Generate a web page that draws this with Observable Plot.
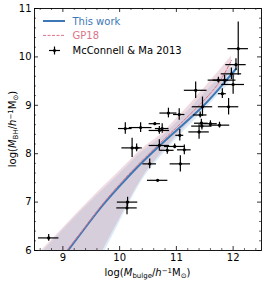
<!DOCTYPE html>
<html><head><meta charset="utf-8">
<script src="https://cdn.jsdelivr.net/npm/d3@7"></script>
<script src="https://cdn.jsdelivr.net/npm/@observablehq/plot@0.6"></script>
<style>body{margin:0;background:#fff}svg{display:block}</style>
</head><body><div id="chart"></div>
<script>
// McConnell & Ma 2013 data (log M_bulge, log M_BH, errors)
const obsX = [8.75,10.14,10.13,10.67,10.53,11.07,10.70,10.84,10.97,11.14,10.22,10.30,10.10,10.37,10.62,10.70,10.75,10.86,11.05,11.06,11.34,11.40,11.42,11.44,11.46,11.45,11.60,11.76,11.92,11.81,11.74,11.85,11.97,12.00,12.05,12.09];
const obsY = [6.26,7.00,6.88,7.45,7.79,7.79,8.17,8.07,8.15,8.08,8.12,8.12,8.52,8.54,8.62,8.48,8.52,8.84,8.81,8.38,9.31,8.45,8.80,8.63,8.97,8.57,8.62,8.59,8.97,9.24,9.52,9.52,9.65,9.43,9.84,10.17];
const obsXerr = [0.18,0.18,0.18,0.18,0.12,0.18,0.18,0.12,0.18,0.12,0.18,0.06,0.12,0.20,0.10,0.18,0.12,0.15,0.10,0.07,0.20,0.18,0.12,0.12,0.18,0.18,0.12,0.18,0.18,0.07,0.18,0.20,0.18,0.20,0.18,0.18];
const obsYerr = [0.07,0.10,0.14,0.00,0.10,0.17,0.12,0.08,0.05,0.10,0.20,0.08,0.12,0.10,0.02,0.08,0.10,0.10,0.12,0.12,0.17,0.15,0.06,0.08,0.20,0.08,0.06,0.06,0.17,0.10,0.06,0.10,0.12,0.20,0.12,0.55];

// This work
const workX = [9.09,9.4,9.7,10.0,10.43,11.0,11.45,11.75,12.05];
const workY = [6.0,6.48,6.93,7.33,7.86,8.48,8.96,9.34,9.75];
const workBandX = [8.6,9.0,9.5,10.0,10.4,10.7,11.0,11.3,11.6,12.05];
const workLo = [3.45,4.35,5.45,6.58,7.45,7.9,8.3,8.66,9.03,9.6];
const workHi = [5.92,6.42,7.02,7.58,8.04,8.3,8.64,9.0,9.38,9.86];

// GP18
const gpX = [9.07,9.4,9.7,10.0,10.43,11.0,11.45,11.75,11.97];
const gpY = [6.0,6.5,6.96,7.37,7.9,8.54,9.06,9.47,9.93];
const gpBandX = [8.6,9.0,9.5,10.0,10.4,10.7,11.0,11.3,11.6,11.97];
const gpLo = [3.55,4.45,5.55,6.65,7.5,7.95,8.36,8.73,9.12,9.7];
const gpHi = [5.97,6.46,7.07,7.64,8.1,8.37,8.72,9.1,9.5,10.02];

const xMajor = [9,10,11,12];
const yMajor = [6,7,8,9,10,11];
const xMinor = d3.range(8.6, 12.5, 0.2).map(v => +v.toFixed(1)).filter(v => !xMajor.includes(v));
const yMinor = d3.range(6.2, 11, 0.2).map(v => +v.toFixed(1)).filter(v => !yMajor.includes(v));

const blue = "#3d78b6", pink = "#dd7388", bandBlue = "#8fbde6", bandPink = "#c98aa0";

const W = 266, H = 283, mL = 34, mR = 5, mT = 8, mB = 33;
const FW = W - mL - mR, FH = H - mT - mB;
const pts = obsX.map((x, i) => ({x, y: obsY[i], xe: obsXerr[i], ye: obsYerr[i]}));
const workBand = workBandX.map((x, i) => ({x, lo: workLo[i], hi: workHi[i]}));
const gpBand = gpBandX.map((x, i) => ({x, lo: gpLo[i], hi: gpHi[i]}));
const workLine = workX.map((x, i) => ({x, y: workY[i]}));
const gpLine = gpX.map((x, i) => ({x, y: gpY[i]}));

const chart = Plot.plot({
  width: W, height: H, marginLeft: mL, marginRight: mR, marginTop: mT, marginBottom: mB,
  style: {fontFamily: "DejaVu Sans", fontSize: "10px", background: "#fff"},
  x: {domain: [8.5, 12.5]},
  y: {domain: [6, 11]},
  marks: [
    Plot.areaY(workBand, {x: "x", y1: "lo", y2: "hi", fill: bandBlue, fillOpacity: 0.3, curve: "natural", clip: true}),
    Plot.areaY(gpBand, {x: "x", y1: "lo", y2: "hi", fill: bandPink, fillOpacity: 0.3, curve: "natural", clip: true}),
    Plot.line(workLine, {x: "x", y: "y", stroke: blue, strokeWidth: 2, curve: "natural", clip: true}),
    Plot.line(gpLine, {x: "x", y: "y", stroke: pink, strokeWidth: 1, strokeDasharray: "3,1.5", curve: "natural", clip: true}),
    Plot.ruleY(pts, {y: "y", x1: d => d.x - d.xe, x2: d => d.x + d.xe, stroke: "black", strokeWidth: 1.2}),
    Plot.ruleX(pts, {x: "x", y1: d => d.y - d.ye, y2: d => d.y + d.ye, stroke: "black", strokeWidth: 1.2}),
    Plot.dot(pts, {x: "x", y: "y", r: 1.6, fill: "black"}),
    // inward ticks
    Plot.ruleX(xMajor, {x: d => d, insetTop: FH - 4, stroke: "black", strokeWidth: 0.8}),
    Plot.ruleX(xMajor, {x: d => d, insetBottom: FH - 4, stroke: "black", strokeWidth: 0.8}),
    Plot.ruleX(xMinor, {x: d => d, insetTop: FH - 2, stroke: "black", strokeWidth: 0.6}),
    Plot.ruleX(xMinor, {x: d => d, insetBottom: FH - 2, stroke: "black", strokeWidth: 0.6}),
    Plot.ruleY(yMajor, {y: d => d, insetRight: FW - 4, stroke: "black", strokeWidth: 0.8}),
    Plot.ruleY(yMajor, {y: d => d, insetLeft: FW - 4, stroke: "black", strokeWidth: 0.8}),
    Plot.ruleY(yMinor, {y: d => d, insetRight: FW - 2, stroke: "black", strokeWidth: 0.6}),
    Plot.ruleY(yMinor, {y: d => d, insetLeft: FW - 2, stroke: "black", strokeWidth: 0.6}),
    Plot.axisX({ticks: xMajor, tickFormat: d3.format("d"), tickSize: 0, tickPadding: 3, label: null, fontSize: 10}),
    Plot.axisY({ticks: yMajor, tickFormat: d3.format("d"), tickSize: 0, tickPadding: 3, label: null, fontSize: 10}),
    Plot.frame({stroke: "black", strokeWidth: 0.9})
  ]
});
document.getElementById("chart").appendChild(chart);

const svg = d3.select(chart);
function richText(g, parts) {
  parts.forEach(p => {
    const t = g.append("tspan").text(p.t);
    if (p.i) t.attr("font-style", "italic");
    if (p.sub) t.attr("font-size", "7px").attr("baseline-shift", "-25%");
    if (p.sup) t.attr("font-size", "7px").attr("baseline-shift", "40%");
  });
}
const xt = svg.append("text").attr("x", mL + FW / 2).attr("y", 276).attr("text-anchor", "middle")
  .attr("font-family", "DejaVu Sans").attr("font-size", 10).attr("fill", "black");
richText(xt, [{t: "log("}, {t: "M", i: 1}, {t: "bulge", sub: 1}, {t: "/"}, {t: "h", i: 1}, {t: "−1", sup: 1}, {t: "M"}, {t: "⊙", sub: 1}, {t: ")"}]);
const yt = svg.append("text").attr("transform", `translate(16,${mT + FH / 2}) rotate(-90)`).attr("text-anchor", "middle")
  .attr("font-family", "DejaVu Sans").attr("font-size", 10).attr("fill", "black");
richText(yt, [{t: "log("}, {t: "M", i: 1}, {t: "BH", sub: 1}, {t: "/"}, {t: "h", i: 1}, {t: "−1", sup: 1}, {t: "M"}, {t: "⊙", sub: 1}, {t: ")"}]);

// legend
const lg = svg.append("g").attr("font-family", "DejaVu Sans").attr("font-size", 10).attr("text-anchor", "start");
lg.append("line").attr("x1", 43).attr("x2", 65).attr("y1", 21).attr("y2", 21).attr("stroke", blue).attr("stroke-width", 2);
lg.append("text").attr("x", 72.5).attr("y", 24.5).attr("fill", blue).text("This work");
lg.append("line").attr("x1", 43).attr("x2", 65).attr("y1", 35.4).attr("y2", 35.4).attr("stroke", pink).attr("stroke-width", 1).attr("stroke-dasharray", "3,1.5");
lg.append("text").attr("x", 72.5).attr("y", 39).attr("fill", pink).text("GP18");
lg.append("line").attr("x1", 49).attr("x2", 60).attr("y1", 50.5).attr("y2", 50.5).attr("stroke", "black").attr("stroke-width", 1.2);
lg.append("line").attr("x1", 54.5).attr("x2", 54.5).attr("y1", 46.5).attr("y2", 54.5).attr("stroke", "black").attr("stroke-width", 1.2);
lg.append("circle").attr("cx", 54.5).attr("cy", 50.5).attr("r", 1.6).attr("fill", "black");
lg.append("text").attr("x", 72.5).attr("y", 54).attr("fill", "black").text("McConnell & Ma 2013");
</script></body></html>
